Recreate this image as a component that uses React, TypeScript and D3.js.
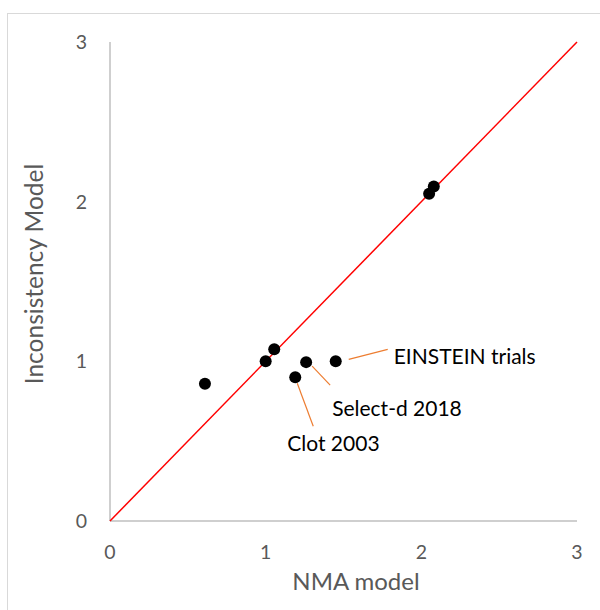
import React from "react";
import * as d3 from "d3";

// ---- data ----
const nmaModel = [0.61, 1.0, 1.055, 1.19, 1.26, 1.45, 2.05, 2.08];
const inconsistencyModel = [0.86, 1.0, 1.075, 0.9, 0.995, 1.0, 2.05, 2.095];
const xTicks = [0, 1, 2, 3];
const yTicks = [0, 1, 2, 3];
const annotationText = ["EINSTEIN trials", "Select-d 2018", "Clot 2003"];
const annotationPoint = [5, 4, 3];

// ---- layout / style ----
const W = 600;
const H = 610;
const plot = { left: 110, right: 577, top: 42, bottom: 521 };
const FONT = "Lato, 'Open Sans', sans-serif";
const GRAY = "#595959";
const annotationOffsets = [
  { sx: 13, sy: -2, ex: 52, ey: -12, tx: 58, ty: -4.5 },
  { sx: 6, sy: 4, ex: 24, ey: 23, tx: 26, ty: 46 },
  { sx: 2, sy: 6, ex: 18, ey: 49, tx: -8, ty: 66 },
];

export default function App() {
  const x = d3.scaleLinear().domain([0, 3]).range([plot.left, plot.right]);
  const y = d3.scaleLinear().domain([0, 3]).range([plot.bottom, plot.top]);
  const diag = d3.line<number>().x((d) => x(d)).y((d) => y(d));

  return (
    <div style={{ position: "absolute", left: 0, top: 0, width: W, height: H, background: "#fff" }}>
      <svg width={W} height={H} style={{ display: "block" }}>
        <rect x={7.5} y={13.5} width={W} height={H} fill="#fff" stroke="#d9d9d9" strokeWidth={1} />
        {/* axes */}
        <line x1={x(0)} x2={x(0)} y1={y(3)} y2={y(0)} stroke="#bfbfbf" strokeWidth={1.5} />
        <line x1={x(0)} x2={x(3)} y1={y(0)} y2={y(0)} stroke="#bfbfbf" strokeWidth={1.5} />
        {/* tick labels */}
        {xTicks.map((t) => (
          <text key={"x" + t} x={x(t)} y={559} textAnchor="middle" fontFamily={FONT} fontSize={19.5} fill={GRAY}>
            {t}
          </text>
        ))}
        {yTicks.map((t) => (
          <text key={"y" + t} x={87} y={y(t)} dy="0.36em" textAnchor="end" fontFamily={FONT} fontSize={19.5} fill={GRAY}>
            {t}
          </text>
        ))}
        {/* axis titles */}
        <text x={356} y={590} textAnchor="middle" fontFamily={FONT} fontSize={24} fill={GRAY}>
          NMA model
        </text>
        <text
          transform={`translate(34,274) rotate(-90)`}
          textAnchor="middle"
          dy="0.36em"
          fontFamily={FONT}
          fontSize={24.5}
          fill={GRAY}
        >
          Inconsistency Model
        </text>
        {/* diagonal */}
        <path d={diag([0, 3]) || ""} stroke="#ff0000" strokeWidth={1.5} fill="none" />
        {/* annotations */}
        {annotationText.map((txt, i) => {
          const p = annotationPoint[i];
          const px = x(nmaModel[p]);
          const py = y(inconsistencyModel[p]);
          const o = annotationOffsets[i];
          return (
            <g key={txt}>
              <line x1={px + o.sx} y1={py + o.sy} x2={px + o.ex} y2={py + o.ey} stroke="#ed7d31" strokeWidth={1.2} />
              <text x={px + o.tx} y={py + o.ty} dy="0.36em" fontFamily={FONT} fontSize={21} fill="#000">
                {txt}
              </text>
            </g>
          );
        })}
        {/* points */}
        {nmaModel.map((v, i) => (
          <circle key={i} cx={x(v)} cy={y(inconsistencyModel[i])} r={6} fill="#000" />
        ))}
      </svg>
    </div>
  );
}
